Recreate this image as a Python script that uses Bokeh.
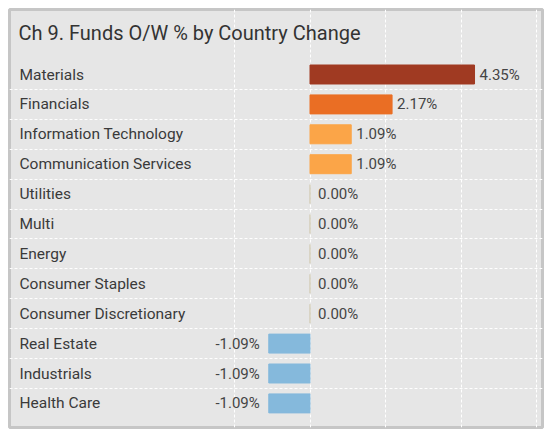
from bokeh.plotting import figure
from bokeh.models import Range1d, Grid, FixedTicker, ColumnDataSource
from bokeh.core.properties import value
from bokeh.embed import file_html
from bokeh.resources import INLINE

# ---- data ----
title_text = "Ch 9.  Funds O/W % by Country Change"
categories = ["Materials", "Financials", "Information Technology", "Communication Services",
              "Utilities", "Multi", "Energy", "Consumer Staples", "Consumer Discretionary",
              "Real Estate", "Industrials", "Health Care"]
values = [4.35, 2.17, 1.09, 1.09, 0.00, 0.00, 0.00, 0.00, 0.00, -1.09, -1.09, -1.09]
grid_ticks = [-2, 0, 2, 4, 6]
x_data_min, x_data_max = -2.9, 6.1

# ---- layout constants (page pixels) ----
W, H = 550, 429
FL, FR, FT, FB = 9, 542, 9, 427   # frame edges
SCALE_X = 37.82                   # px per unit
ZERO_PX = 309.5                   # page x of zero
ROW_PX = 29.9                     # px per row
FIRST_ROW_PX = 74.0               # page y of first row centre

x_start = (FL - ZERO_PX) / SCALE_X
x_end = (FR - ZERO_PX) / SCALE_X
y_top = (FT - FIRST_ROW_PX) / ROW_PX
y_bottom = (FB - FIRST_ROW_PX) / ROW_PX

FONT = value("Roboto")
TXT = "#3a3a3a"

def bar_color(v):
    if v >= 4:
        return "#A03A22"
    if v >= 2:
        return "#EA6E24"
    if v > 0:
        return "#FBA548"
    if v < 0:
        return "#85B9DC"
    return "#E6E6E6"

ys = list(range(len(categories)))
fills = [bar_color(v) for v in values]
lines = [c if v != 0 else "#D4CEBA" for c, v in zip(fills, values)]
labels = ["%.2f%%" % v for v in values]

src = ColumnDataSource(dict(y=ys, v=values, fill=fills, line=lines, lab=labels, cat=categories))

p = figure(width=W, height=H, output_backend="svg", toolbar_location=None,
           x_range=Range1d(x_start, x_end), y_range=Range1d(y_bottom, y_top),
           x_axis_location=None, y_axis_location=None,
           min_border_left=FL, min_border_right=W - FR, min_border_top=FT,
           min_border_bottom=H - FB)
p.background_fill_color = "#E6E6E6"
p.border_fill_color = "white"
p.outline_line_color = "#C6C6C6"
p.outline_line_width = 3
p.grid.visible = False

# grids
vgrid = Grid(dimension=0, ticker=FixedTicker(ticks=grid_ticks), bounds=(-0.5, len(categories) - 0.5),
             grid_line_color="white", grid_line_dash="3 2", grid_line_width=1)
hgrid = Grid(dimension=1, ticker=FixedTicker(ticks=[i + 0.5 for i in range(len(categories) - 1)]),
             bounds=(x_data_min, x_data_max),
             grid_line_color="white", grid_line_dash="3 2", grid_line_width=1)
p.add_layout(vgrid)
p.add_layout(hgrid)

# bars
p.hbar(y="y", left=0, right="v", height=0.635, fill_color="fill", line_color="line",
       line_width=1, source=src)

# value labels
def subset(cond):
    idx = [i for i, v in enumerate(values) if cond(v)]
    return ColumnDataSource(dict(x=[values[i] for i in idx], y=idx, t=[labels[i] for i in idx]))

common = dict(text="t", text_font=FONT, text_font_size="15px", text_color="#444444",
              text_baseline="middle")
p.text(x="x", y="y", source=subset(lambda v: v > 0), x_offset=5, text_align="left", **common)
p.text(x="x", y="y", source=subset(lambda v: v == 0), x_offset=8, text_align="left", **common)
p.text(x="x", y="y", source=subset(lambda v: v < 0), x_offset=-9, text_align="right", **common)

# category labels
p.text(x=x_start + 10 / SCALE_X, y="y", text="cat", source=src, text_font=FONT,
       text_font_size="15.5px", text_color=TXT, text_baseline="middle", text_align="left")

# title
p.text(x=[x_start + 9 / SCALE_X], y=[(32 - FIRST_ROW_PX) / ROW_PX], text=[title_text],
       text_font=FONT, text_font_size="20px", text_color="#333333",
       text_baseline="middle", text_align="left")

open("out.html", "w").write(file_html(p, INLINE))
